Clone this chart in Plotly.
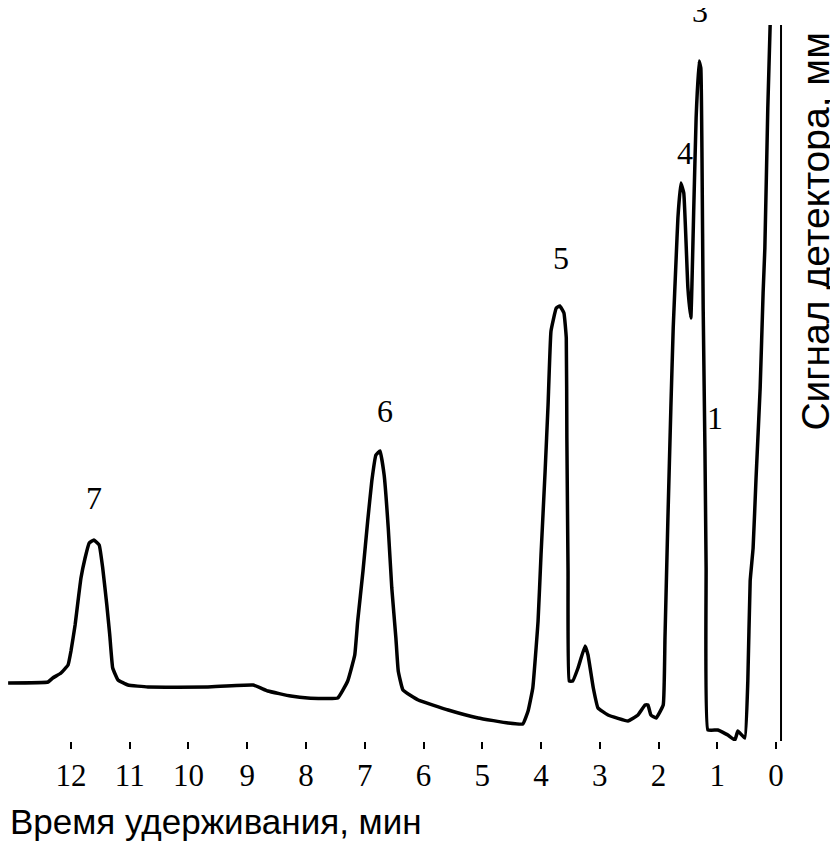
import plotly.graph_objects as go

# Retention time (min) and detector signal (arbitrary mm units)
time_min = [13.07, 12.39, 12.31, 12.17, 12.05, 12.00, 11.93, 11.88, 11.83, 11.76, 11.69, 11.61,
            11.52, 11.46, 11.39, 11.34, 11.29, 11.20, 11.03, 10.69, 9.67, 8.90, 8.65, 8.26,
            7.97, 7.46, 7.29, 7.17, 7.12, 7.03, 6.95, 6.88, 6.81, 6.74, 6.67, 6.60, 6.54,
            6.47, 6.43, 6.35, 6.09, 5.58, 5.07, 4.56, 4.31, 4.22, 4.14, 4.05, 4.00, 3.93,
            3.88, 3.83, 3.74, 3.68, 3.61, 3.57, 3.56, 3.54, 3.52, 3.46, 3.37, 3.25, 3.20,
            3.11, 3.03, 2.86, 2.52, 2.35, 2.23, 2.18, 2.13, 2.04, 1.92, 1.89, 1.84, 1.79,
            1.75, 1.70, 1.67, 1.62, 1.57, 1.50, 1.45, 1.40, 1.36, 1.31, 1.28, 1.26, 1.24,
            1.21, 1.19, 1.16, 0.99, 0.82, 0.70, 0.65, 0.53, 0.48, 0.44, 0.39, 0.34, 0.27,
            0.22, 0.19, 0.14, 0.10, 0.09]
signal_mm = [65, 66, 70, 75, 83, 97, 123, 147, 170, 190, 205, 208,
             203, 180, 143, 113, 80, 68, 63, 61, 61, 63, 57, 52,
             50, 50, 67, 93, 127, 177, 227, 267, 293, 297, 273, 220, 160,
             110, 77, 58, 48, 38, 30, 25, 24, 37, 60, 127, 193, 277,
             343, 417, 440, 442, 435, 410, 310, 177, 67, 67, 80, 102, 93,
             60, 40, 33, 27, 33, 43, 43, 33, 30, 43, 110, 230, 340,
             420, 490, 530, 565, 555, 460, 430, 540, 630, 687, 680, 590, 440,
             300, 180, 18, 18, 13, 8, 17, 10, 67, 167, 200, 270, 360,
             455, 500, 640, 723, 760]

# Injection (start) line at t = 0
start_time = [-0.085, -0.085]
start_signal = [0, 760]

tick_values = list(range(0, 13))
tick_labels = [str(v) for v in tick_values]

peak_labels = ["7", "6", "5", "4", "1"]
peak_times = [11.61, 6.66, 3.66, 1.55, 1.04]
peak_heights = [250, 337, 490, 595, 330]

fig = go.Figure()
fig.add_trace(go.Scatter(x=time_min, y=signal_mm, mode="lines",
                         line=dict(color="black", width=3.5, shape="spline", smoothing=0.3),
                         showlegend=False, hoverinfo="skip"))
fig.add_trace(go.Scatter(x=start_time, y=start_signal, mode="lines",
                         line=dict(color="black", width=2),
                         showlegend=False, hoverinfo="skip", cliponaxis=True))

serif = dict(family="Liberation Serif", size=32, color="black")
annotations = []
for lab, t, h in zip(peak_labels, peak_times, peak_heights):
    annotations.append(dict(x=t, y=h, xref="x", yref="y", text=lab, showarrow=False,
                            font=serif))
annotations.append(dict(x=1.29, y=1.0, xref="x", yref="paper", text="3", showarrow=False,
                        yanchor="bottom", yshift=-6, font=serif))
annotations.append(dict(x=0.0, y=-0.112, xref="paper", yref="paper", xanchor="left",
                        yanchor="middle", text="Время удерживания, мин", showarrow=False,
                        font=dict(family="Liberation Sans", size=35, color="black")))
annotations.append(dict(x=1.022, y=0.712, xref="paper", yref="paper", xanchor="center",
                        yanchor="middle", text="Сигнал детектора, мм", textangle=-90,
                        showarrow=False,
                        font=dict(family="Liberation Sans", size=39, color="black")))

fig.update_layout(
    width=838, height=862,
    margin=dict(l=0, r=48, t=17, b=129),
    paper_bgcolor="white", plot_bgcolor="white",
    annotations=annotations,
    xaxis=dict(range=[13.072, -0.374], tickvals=tick_values, ticktext=tick_labels,
               ticks="outside", ticklen=7, tickwidth=2, tickcolor="black",
               showline=False, showgrid=False, zeroline=False,
               tickfont=dict(family="Liberation Serif", size=31, color="black")),
    yaxis=dict(range=[7, 723], visible=False, showgrid=False, zeroline=False),
)

fig.write_html("out.html")
